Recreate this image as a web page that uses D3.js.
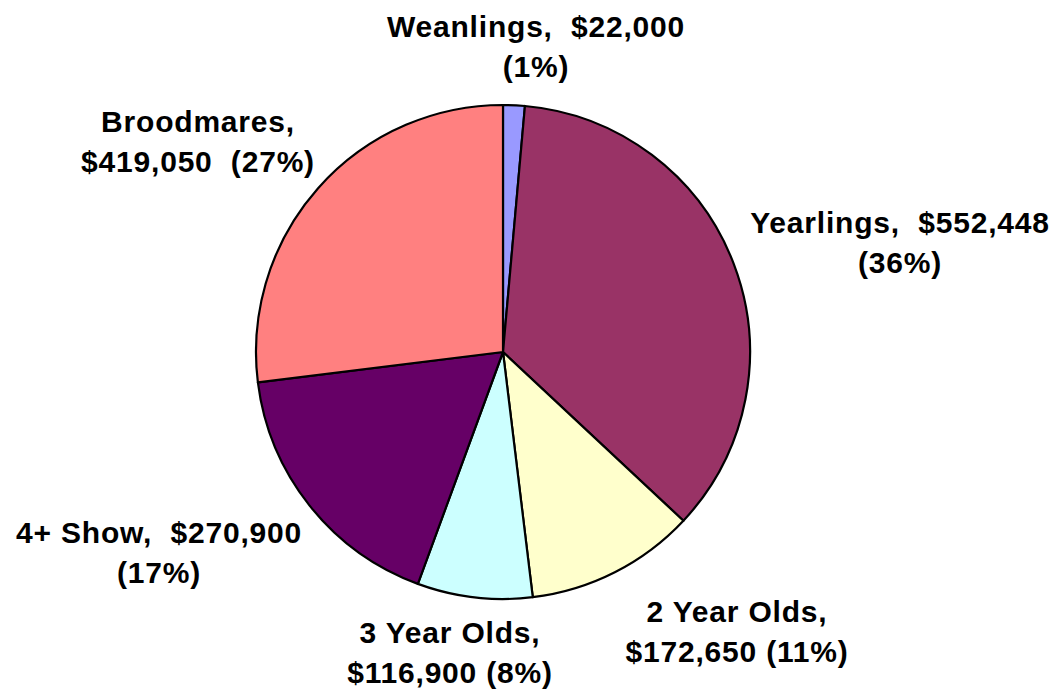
<!DOCTYPE html>
<html>
<head>
<meta charset="utf-8">
<script src="https://cdn.jsdelivr.net/npm/d3@7"></script>
<style>
  body { margin: 0; background: #fff; }
  .lbl { font-family: "Liberation Sans", Arial, sans-serif; font-weight: bold; font-size: 30px; fill: #000; white-space: pre; letter-spacing: 0.8px; }
</style>
</head>
<body>
<div id="canvas"></div>
<script>
// DATA
const categories = ["Weanlings", "Yearlings", "2 Year Olds", "3 Year Olds", "4+ Show", "Broodmares"];
const values = [22000, 552448, 172650, 116900, 270900, 419050];
const colors = ["#9999FF", "#993366", "#FFFFCC", "#CCFFFF", "#660066", "#FF8080"];
const labelLines = [
  ["Weanlings,  $22,000", "(1%)"],
  ["Yearlings,  $552,448", "(36%)"],
  ["2 Year Olds,", "$172,650 (11%)"],
  ["3 Year Olds,", "$116,900 (8%)"],
  ["4+ Show,  $270,900", "(17%)"],
  ["Broodmares,", "$419,050  (27%)"]
];

// LAYOUT
const width = 1057;
const height = 690;
const cx = 503, cy = 352, radius = 247;
const lineGap = 40;
// first-line baseline anchor of each label (centered)
const labelAnchor = [
  [536, 37], [900, 233], [737, 622], [450, 643], [159, 543], [198, 132]
];

const svg = d3.select("#canvas")
  .append("svg")
  .attr("width", width)
  .attr("height", height);

const pie = d3.pie().sort(null).value(d => d)
  .startAngle(0).endAngle(2 * Math.PI);

const arc = d3.arc().innerRadius(0).outerRadius(radius);

const plot = svg.append("g")
  .attr("transform", `translate(${cx}, ${cy})`);

plot.selectAll("path")
  .data(pie(values))
  .join("path")
  .attr("d", arc)
  .attr("fill", (d, i) => colors[i])
  .attr("stroke", "#000")
  .attr("stroke-width", 2.2)
  .attr("stroke-linejoin", "round");

// LABELS
const labels = svg.append("g")
  .selectAll("text")
  .data(categories)
  .join("text")
  .attr("class", "lbl")
  .attr("text-anchor", "middle");

labels.each(function(d, i) {
  const [x, y] = labelAnchor[i];
  d3.select(this).selectAll("tspan")
    .data(labelLines[i])
    .join("tspan")
    .attr("x", x)
    .attr("y", (t, j) => y + j * lineGap)
    .text(t => t);
});
</script>
</body>
</html>
